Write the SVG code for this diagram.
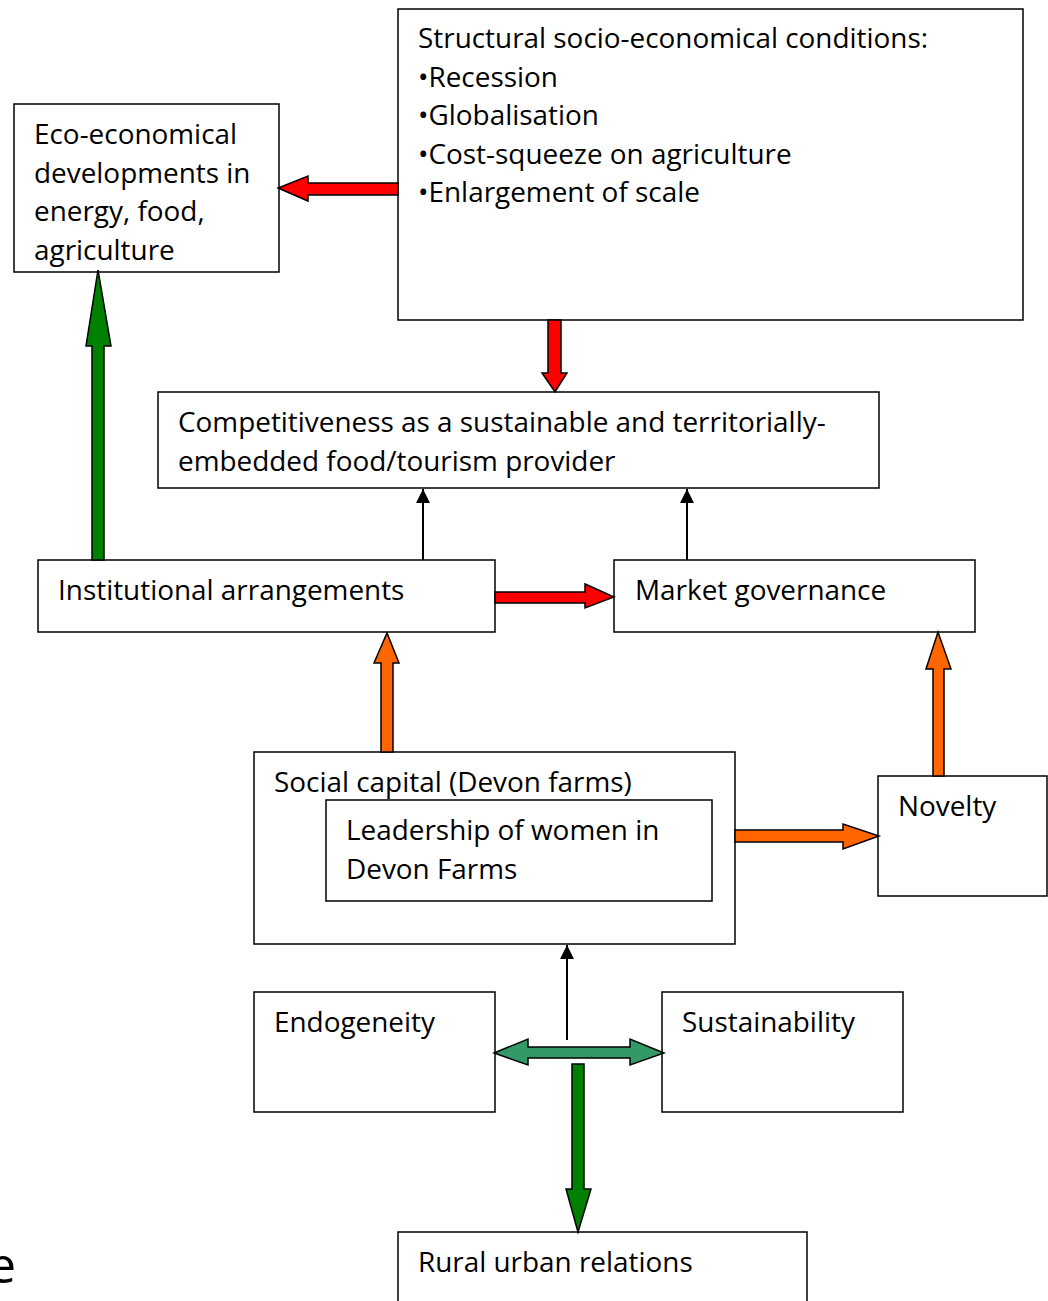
<svg xmlns="http://www.w3.org/2000/svg" width="1048" height="1301" viewBox="0 0 1048 1301">
<style>
.box{fill:#fff;stroke:#000;stroke-width:1.5}
text{font-family:"Open Sans",Lato,sans-serif;font-size:27.9px;fill:#000}
.blk{stroke:#000;stroke-width:2;fill:none}
.ba{stroke:#000;stroke-width:1.5;stroke-linejoin:miter}
.red{fill:#ff0000}.grn{fill:#008000}.org{fill:#ff6600}.sea{fill:#339966}
</style>
<defs>
<marker id="ah" viewBox="0 0 14 16" refX="14" refY="7" markerWidth="14" markerHeight="16" markerUnits="userSpaceOnUse" orient="auto">
<path d="M0,0 L14,7 L0,14 Z" fill="#000"/>
</marker>
</defs>
<text x="-12" y="1283" style="font-size:50px">e</text>
<g id="structural"><rect class="box" x="398" y="9" width="625" height="311"/>
<text x="418" y="48">Structural socio-economical conditions:</text>
<text x="418" y="87">•Recession</text>
<text x="418" y="125">•Globalisation</text>
<text x="418" y="164">•Cost-squeeze on agriculture</text>
<text x="418" y="202">•Enlargement of scale</text></g>
<g id="eco"><rect class="box" x="14" y="104" width="265" height="168"/>
<text x="34" y="144">Eco-economical</text>
<text x="34" y="183">developments in</text>
<text x="34" y="221">energy, food,</text>
<text x="34" y="260">agriculture</text></g>
<g id="competitiveness"><rect class="box" x="158" y="392" width="721" height="96"/>
<text x="178" y="432">Competitiveness as a sustainable and territorially-</text>
<text x="178" y="471">embedded food/tourism provider</text></g>
<g id="institutional"><rect class="box" x="38" y="560" width="457" height="72"/>
<text x="58" y="600">Institutional arrangements</text></g>
<g id="market"><rect class="box" x="614" y="560" width="361" height="72"/>
<text x="635" y="600">Market governance</text></g>
<g id="social"><rect class="box" x="254" y="752" width="481" height="192"/>
<text x="274" y="792">Social capital (Devon farms)</text></g>
<g id="leadership"><rect class="box" x="326" y="800" width="386" height="101"/>
<text x="346" y="840">Leadership of women in</text>
<text x="346" y="879">Devon Farms</text></g>
<g id="novelty"><rect class="box" x="878" y="776" width="169" height="120"/>
<text x="898" y="816">Novelty</text></g>
<g id="endogeneity"><rect class="box" x="254" y="992" width="241" height="120"/>
<text x="274" y="1032">Endogeneity</text></g>
<g id="sustainability"><rect class="box" x="662" y="992" width="241" height="120"/>
<text x="682" y="1032">Sustainability</text></g>
<g id="rural"><rect class="box" x="398" y="1232" width="409" height="80"/>
<text x="418" y="1272">Rural urban relations</text></g>
<g id="connectors">
<path class="ba red" d="M398,183 L308,183 L308,176 L278,188 L308,201 L308,195 L398,195 Z"/>
<path class="ba red" d="M548,320 L548,373 L542,373 L555,392 L567,373 L561,373 L561,320 Z"/>
<path class="ba grn" d="M92,560 L92,346 L86,346 L98,270 L111,346 L104,346 L104,560 Z"/>
<path class="ba red" d="M495,592 L585,592 L585,584 L614,597 L585,608 L585,603 L495,603 Z"/>
<line class="blk" x1="423" y1="560" x2="423" y2="489" marker-end="url(#ah)"/>
<line class="blk" x1="687" y1="560" x2="687" y2="489" marker-end="url(#ah)"/>
<path class="ba org" d="M381,752 L381,663 L374,663 L387,633 L399,663 L393,663 L393,752 Z"/>
<path class="ba org" d="M735,830 L843,830 L843,824 L879,836 L843,849 L843,842 L735,842 Z"/>
<path class="ba org" d="M933,776 L933,669 L926,669 L938,632 L951,669 L944,669 L944,776 Z"/>
<line class="blk" x1="567" y1="1040" x2="567" y2="945" marker-end="url(#ah)"/>
<path class="ba sea" d="M494,1053 L528,1039 L528,1047 L630,1047 L630,1039 L664,1053 L630,1065 L630,1058 L528,1058 L528,1065 Z"/>
<path class="ba grn" d="M572,1064 L572,1189 L566,1189 L578,1232 L591,1189 L584,1189 L584,1064 Z"/>
</g>
</svg>
